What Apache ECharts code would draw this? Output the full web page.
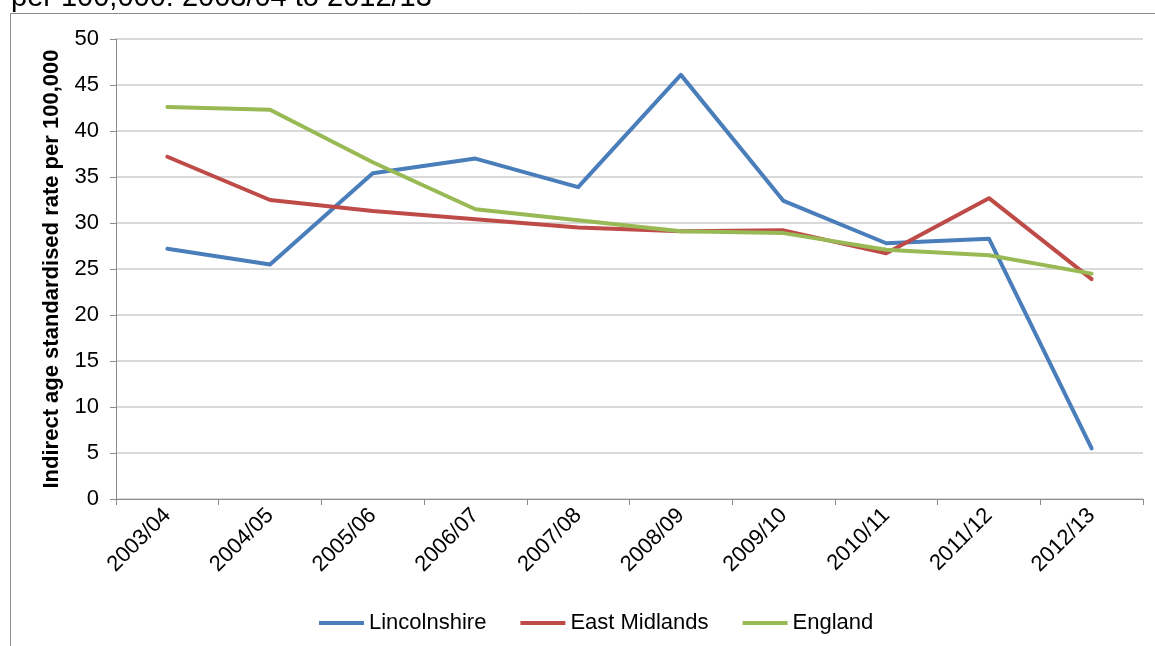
<!DOCTYPE html>
<html>
<head>
<meta charset="utf-8">
<style>
  html, body { margin: 0; padding: 0; background: #fff; }
  #chart { width: 1155px; height: 646px; }
</style>
<script src="https://cdn.jsdelivr.net/npm/echarts@6/dist/echarts.min.js"></script>
</head>
<body>
<div id="chart"></div>
<script>
// Financial years on the category axis
const years = ['2003/04', '2004/05', '2005/06', '2006/07', '2007/08',
               '2008/09', '2009/10', '2010/11', '2011/12', '2012/13'];

// Indirect age standardised rate per 100,000
const lincolnshire = [27.2, 25.5, 35.4, 37.0, 33.9, 46.1, 32.4, 27.8, 28.3, 5.5];
const eastMidlands = [37.2, 32.5, 31.3, 30.4, 29.5, 29.1, 29.2, 26.7, 32.7, 23.9];
const england      = [42.6, 42.3, 36.6, 31.5, 30.3, 29.1, 28.9, 27.1, 26.5, 24.5];

const yTicks = [0, 5, 10, 15, 20, 25, 30, 35, 40, 45, 50];

const FONT = '"Liberation Sans", Arial, sans-serif';
const chart = echarts.init(document.getElementById('chart'), null, { renderer: 'canvas' });

function lineSeries(name, data, color) {
  return {
    name, type: 'line', data,
    symbol: 'none',
    lineStyle: { color, width: 4, cap: 'round', join: 'round' },
    itemStyle: { color },
    animation: false
  };
}

chart.setOption({
  backgroundColor: '#ffffff',
  animation: false,
  graphic: [
    {
      type: 'rect', silent: true,
      shape: { x: 10.5, y: 13.5, width: 1200, height: 700 },
      style: { fill: 'none', stroke: '#8c8c8c', lineWidth: 1 }
    },
    {
      type: 'text', silent: true, left: 11, top: -17,
      style: { text: 'per 100,000: 2003/04 to 2012/13', font: '29px ' + FONT, fill: '#000' }
    }
  ],
  grid: { left: 116, right: 12, top: 39, bottom: 147 },
  legend: {
    bottom: 7, left: 314,
    itemWidth: 45, itemHeight: 4, itemGap: 34,
    icon: 'rect',
    textStyle: { fontFamily: FONT, fontSize: 22, color: '#000' },
    data: ['Lincolnshire', 'East Midlands', 'England']
  },
  xAxis: {
    type: 'category',
    data: years,
    boundaryGap: true,
    axisLine: { lineStyle: { color: '#8c8c8c', width: 1 } },
    axisTick: { show: true, length: 6, alignWithLabel: false, lineStyle: { color: '#8c8c8c' } },
    axisLabel: { rotate: 45, fontFamily: FONT, fontSize: 22, color: '#000', margin: 13, interval: 0 },
    splitLine: { show: false }
  },
  yAxis: {
    type: 'value',
    min: yTicks[0], max: yTicks[yTicks.length - 1], interval: 5,
    name: 'Indirect age standardised rate per 100,000',
    nameLocation: 'middle', nameGap: 53,
    nameTextStyle: { fontFamily: FONT, fontSize: 22, fontWeight: 'bold', color: '#000' },
    axisLine: { show: true, lineStyle: { color: '#8c8c8c', width: 1 } },
    axisTick: { show: true, length: 6, lineStyle: { color: '#8c8c8c' } },
    axisLabel: { fontFamily: FONT, fontSize: 22, color: '#000', margin: 17 },
    splitLine: { show: true, lineStyle: { color: '#d9d9d9', width: 2 } }
  },
  series: [
    lineSeries('Lincolnshire', lincolnshire, '#4a7ebb'),
    lineSeries('East Midlands', eastMidlands, '#be4b48'),
    lineSeries('England', england, '#98b954')
  ]
});
</script>
</body>
</html>
